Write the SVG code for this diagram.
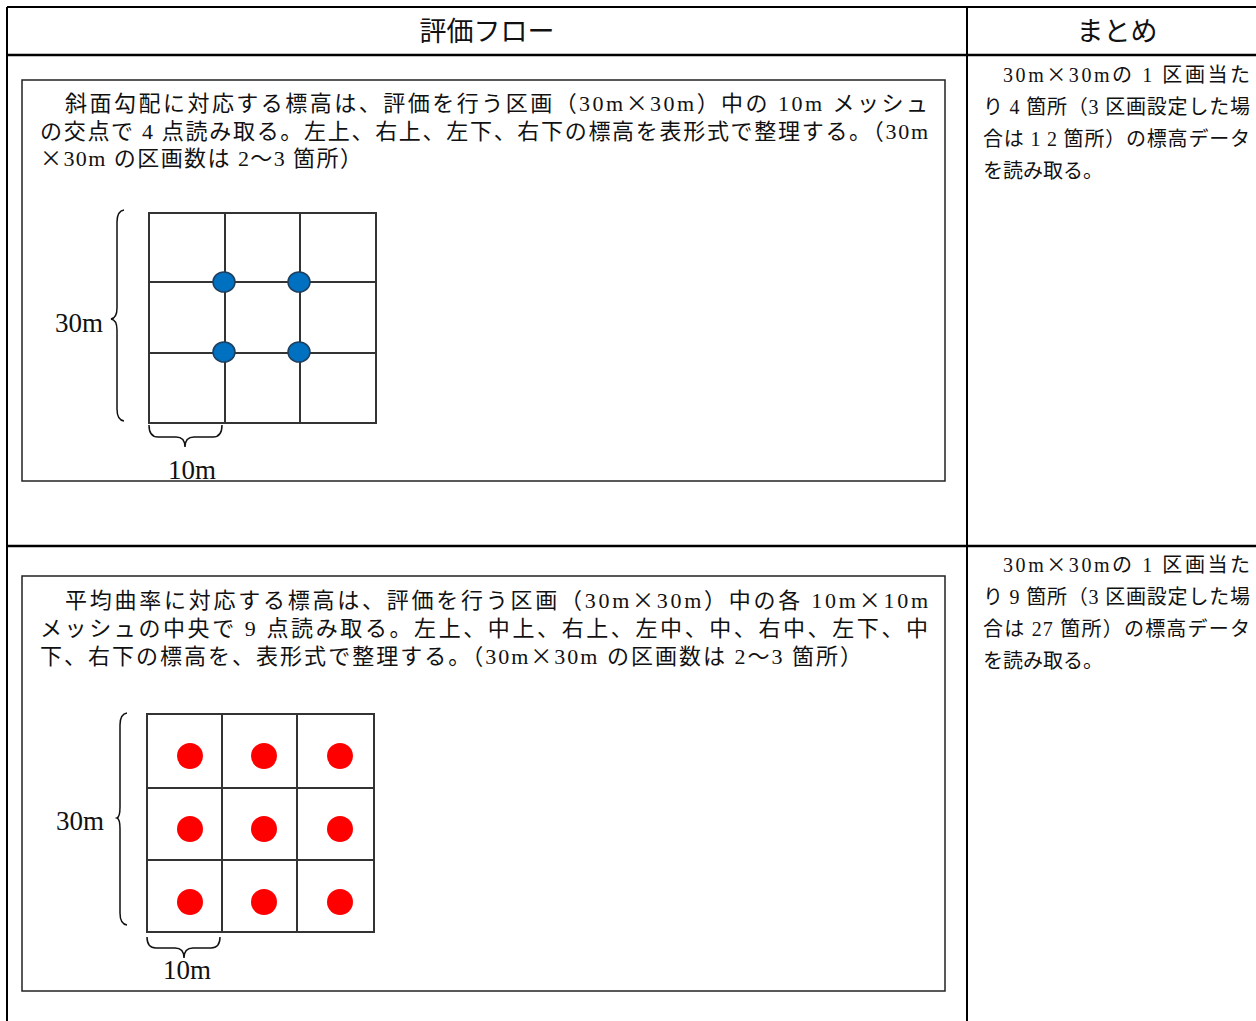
<svg xmlns="http://www.w3.org/2000/svg" width="1256" height="1021" viewBox="0 0 1256 1021">
<style>
.t{font-family:"Liberation Serif","Noto Sans CJK JP",serif;fill:#111;}
.cj{font-family:"Noto Sans CJK JP",sans-serif;}
.b{font-size:22px;}
.r{font-size:20px;}
.h{font-size:27px;}
.lbl{font-size:27px;}
.tbl{stroke:#000;fill:none;}
.box{fill:#fff;stroke:#222;stroke-width:1.5;}
.grid{fill:none;stroke:#333;stroke-width:2;}
.brace{fill:none;stroke:#111;stroke-width:1.5;}
.blue{fill:#0070C0;stroke:#1f3f5f;stroke-width:1.5;}
.red{fill:#FF0000;}
</style>
<rect width="1256" height="1021" fill="#fff"/>
<g id="table">
<line class="tbl" x1="7" y1="7" x2="1256" y2="7" stroke-width="2"/>
<line class="tbl" x1="7" y1="7" x2="7" y2="1021" stroke-width="2"/>
<line class="tbl" x1="7" y1="55" x2="1256" y2="55" stroke-width="2.5"/>
<line class="tbl" x1="7" y1="546" x2="1256" y2="546" stroke-width="2.5"/>
<line class="tbl" x1="967" y1="7" x2="967" y2="1021" stroke-width="2"/>
<text class="t h" x="487" y="41" text-anchor="middle">評価フロー</text>
<text class="t h" x="1117" y="41" text-anchor="middle">まとめ</text>
</g>
<g id="summary1">
<text class="t r" x="1003" y="82" textLength="247" lengthAdjust="spacing">30m<tspan class="cj">×</tspan>30mの 1 区画当た</text>
<text class="t r" x="983" y="114" textLength="267" lengthAdjust="spacing">り 4 箇所（3 区画設定した場</text>
<text class="t r" x="983" y="146" textLength="267" lengthAdjust="spacing">合は 1 2 箇所）の標高データ</text>
<text class="t r" x="983" y="178">を読み取る。</text>
</g>
<g id="summary2">
<text class="t r" x="1003" y="572" textLength="247" lengthAdjust="spacing">30m<tspan class="cj">×</tspan>30mの 1 区画当た</text>
<text class="t r" x="983" y="604" textLength="267" lengthAdjust="spacing">り 9 箇所（3 区画設定した場</text>
<text class="t r" x="983" y="636" textLength="267" lengthAdjust="spacing">合は 27 箇所）の標高データ</text>
<text class="t r" x="983" y="668">を読み取る。</text>
</g>
<g id="flow1">
<rect class="box" x="22" y="80" width="923" height="401"/>
<text class="t b" x="65" y="111" textLength="863" lengthAdjust="spacing">斜面勾配に対応する標高は、評価を行う区画（30m<tspan class="cj">×</tspan>30m）中の 10m メッシュ</text>
<text class="t b" x="40" y="139" textLength="888" lengthAdjust="spacing">の交点で 4 点読み取る。左上、右上、左下、右下の標高を表形式で整理する。（30m</text>
<text class="t b" x="40" y="166" textLength="322" lengthAdjust="spacing"><tspan class="cj">×</tspan>30m の区画数は 2～3 箇所）</text>
<g id="grid1">
<rect class="grid" x="149" y="213" width="227" height="210"/>
<line class="grid" x1="225" y1="213" x2="225" y2="423"/>
<line class="grid" x1="300" y1="213" x2="300" y2="423"/>
<line class="grid" x1="149" y1="282" x2="376" y2="282"/>
<line class="grid" x1="149" y1="353" x2="376" y2="353"/>
<ellipse class="blue" cx="224" cy="282" rx="11" ry="10"/>
<ellipse class="blue" cx="299" cy="282" rx="11" ry="10"/>
<ellipse class="blue" cx="224" cy="352" rx="11" ry="10"/>
<ellipse class="blue" cx="299" cy="352" rx="11" ry="10"/>
</g>
<path class="brace" d="M124 210 Q117 211 117 222 L117 308 Q117 318 111 319 Q117 320 117 330 L117 409 Q117 420 124 421"/>
<path class="brace" d="M149 425 Q149 437 158 437 L176 437 Q185 437 185 447 Q185 437 194 437 L213 437 Q222 437 222 425"/>
<text class="t lbl" x="55" y="332">30m</text>
<text class="t lbl" x="168" y="479">10m</text>
</g>
<g id="flow2">
<rect class="box" x="22" y="576" width="923" height="415"/>
<text class="t b" x="65" y="608" textLength="863" lengthAdjust="spacing">平均曲率に対応する標高は、評価を行う区画（30m<tspan class="cj">×</tspan>30m）中の各 10m<tspan class="cj">×</tspan>10m</text>
<text class="t b" x="40" y="636" textLength="888" lengthAdjust="spacing">メッシュの中央で 9 点読み取る。左上、中上、右上、左中、中、右中、左下、中</text>
<text class="t b" x="40" y="664" textLength="822" lengthAdjust="spacing">下、右下の標高を、表形式で整理する。（30m<tspan class="cj">×</tspan>30m の区画数は 2～3 箇所）</text>
<g id="grid2">
<rect class="grid" x="147" y="714" width="227" height="218"/>
<line class="grid" x1="222" y1="714" x2="222" y2="932"/>
<line class="grid" x1="297" y1="714" x2="297" y2="932"/>
<line class="grid" x1="147" y1="788" x2="374" y2="788"/>
<line class="grid" x1="147" y1="860" x2="374" y2="860"/>
<circle class="red" cx="190" cy="756" r="13"/>
<circle class="red" cx="264" cy="756" r="13"/>
<circle class="red" cx="340" cy="756" r="13"/>
<circle class="red" cx="190" cy="829" r="13"/>
<circle class="red" cx="264" cy="829" r="13"/>
<circle class="red" cx="340" cy="829" r="13"/>
<circle class="red" cx="190" cy="902" r="13"/>
<circle class="red" cx="264" cy="902" r="13"/>
<circle class="red" cx="340" cy="902" r="13"/>
</g>
<path class="brace" d="M127 713 Q120 714 120 725 L120 807 Q120 817 117 818 Q120 819 120 829 L120 913 Q120 924 127 925"/>
<path class="brace" d="M147 937 Q147 948 156 948 L175 948 Q184 948 184 958 Q184 948 193 948 L211 948 Q220 948 220 937"/>
<text class="t lbl" x="56" y="830">30m</text>
<text class="t lbl" x="163" y="979">10m</text>
</g>
</svg>
